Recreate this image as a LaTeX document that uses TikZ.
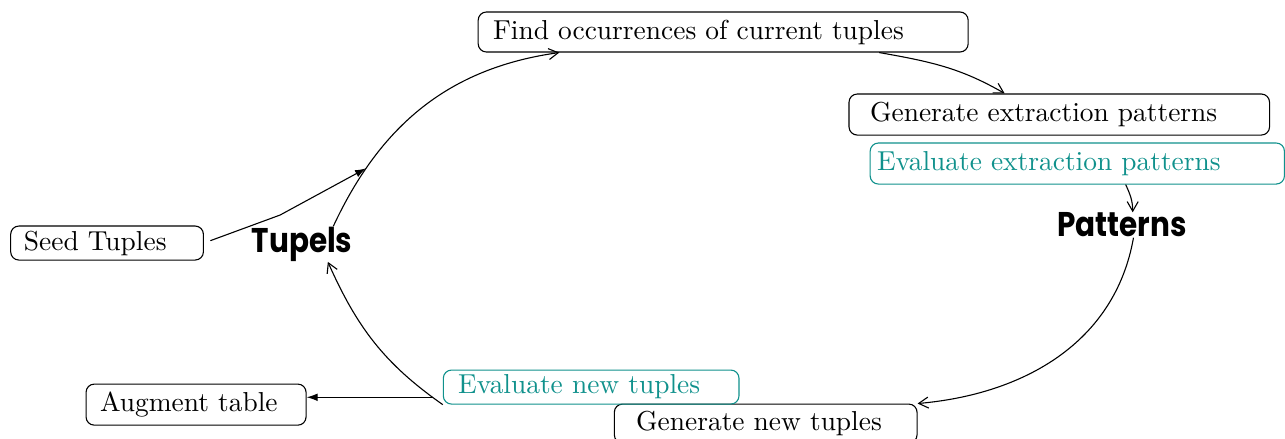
\documentclass[tikz,border=0pt]{standalone}
\usepackage{fontspec}
\usepackage{xcolor}
\usepackage{tikz}
\usetikzlibrary{arrows.meta}
\newfontfamily\cyclefont{Poppins}
\definecolor{evalteal}{RGB}{16,145,140}

\begin{document}
\begin{tikzpicture}[
    stage/.style={draw, rounded corners=3pt, align=left, inner ysep=0pt},
    evalstage/.style={stage, draw=evalteal, text=evalteal},
    cyclelabel/.style={font=\cyclefont\bfseries\fontsize{12.5}{12.5}\selectfont, inner sep=0pt, xscale=0.86, transform shape},
    flow/.style={-{Straight Barb[length=3.5pt,width=4pt]}},
    feed/.style={-{Latex[length=4pt,width=2.8pt]}}
  ]
  \useasboundingbox (0,0) rectangle (16.47,5.615);

  % Stages round the loop
  \node[stage, text width=5.9cm, inner xsep=0.19cm, minimum height=0.513cm] (find) at (9.269,5.205) {Find occurrences of current tuples};
  \node[stage, text width=4.85cm, inner xsep=0.27cm, minimum height=0.526cm] (genpat) at (13.577,4.147) {Generate extraction patterns};
  \node[evalstage, text width=5.13cm, inner xsep=0.09cm, minimum height=0.526cm] (evalpat) at (13.808,3.519) {Evaluate extraction patterns};
  \node[stage, text width=3.32cm, inner xsep=0.28cm, minimum height=0.5cm] (gennew) at (9.814,0.186) {Generate new tuples};
  \node[evalstage, text width=3.41cm, inner xsep=0.19cm, minimum height=0.436cm] (evalnew) at (7.577,0.654) {Evaluate new tuples};

  % Outside the loop
  \node[stage, text width=2.13cm, inner xsep=0.17cm, minimum height=0.436cm] (seed) at (1.372,2.5) {Seed Tuples};
  \node[stage, text width=2.46cm, inner xsep=0.18cm, minimum height=0.526cm] (augment) at (2.513,0.429) {Augment table};

  % Group labels
  \node[cyclelabel] (tupels) at (3.872,2.487) {Tupels};
  \node[cyclelabel] (patterns) at (14.378,2.731) {Patterns};

  % Loop
  \draw[flow] ([xshift=0.4cm]tupels.north) to[out=65,in=188]
    coordinate[pos=0.21] (seedjoin) ([xshift=-2.1cm]find.south);
  \draw[flow] ([xshift=2.0cm]find.south) to[out=-10,in=150] ([xshift=-0.7cm]genpat.north);
  \draw[flow] ([xshift=0.62cm]evalpat.south) to[out=-65,in=90] ([xshift=0.14cm]patterns.north);
  \draw[flow] ([xshift=0.15cm]patterns.south) to[out=-100,in=5] (gennew.north east);
  \draw[flow] (evalnew.south west) to[out=145,in=-66]
    coordinate[pos=0.06] (augjoin) ([xshift=0.33cm]tupels.south);

  % Seed in, table out
  \coordinate (seedbend) at (3.59,2.859);
  \draw[feed, shorten <=2.5pt] (seed.east) -- (seedbend) -- (seedjoin);
  \draw[feed] (augjoin) -- (augjoin -| augment.east);
\end{tikzpicture}
\end{document}
